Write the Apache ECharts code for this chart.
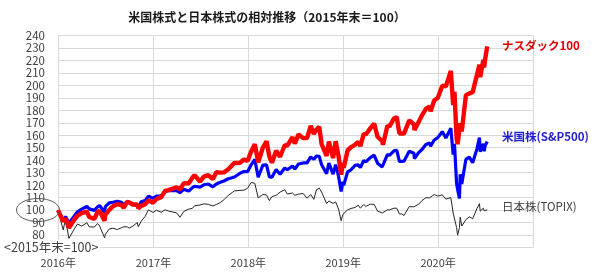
<!DOCTYPE html>
<html>
<head>
<meta charset="utf-8">
<script src="https://cdn.jsdelivr.net/npm/echarts@6/dist/echarts.min.js"></script>
<style>html,body{margin:0;padding:0;background:#fff}#c{width:600px;height:278px}</style>
</head>
<body>
<div id="c"></div>
<script>
const titleText = '米国株式と日本株式の相対推移（2015年末＝100）';
const seriesNames = ['ナスダック100', '米国株(S&P500)', '日本株(TOPIX)'];
const baseNote = '<2015年末=100>';
const hiddenYLabel = 70;

const dates = [
'2015-12-31','2016-01-20','2016-01-29','2016-02-11','2016-02-29','2016-03-15','2016-03-31','2016-04-20','2016-04-29','2016-05-19','2016-05-31','2016-06-08','2016-06-27','2016-06-30','2016-07-15','2016-07-29','2016-08-15','2016-08-31','2016-09-09','2016-09-22','2016-09-30','2016-10-14','2016-10-31','2016-11-04','2016-11-15','2016-11-30','2016-12-13','2016-12-30',
'2017-01-13','2017-01-31','2017-02-15','2017-02-28','2017-03-01','2017-03-31','2017-04-13','2017-04-28','2017-05-17','2017-05-31','2017-06-08','2017-06-29','2017-07-14','2017-07-31','2017-08-18','2017-08-31','2017-09-15','2017-09-29','2017-10-16','2017-10-31','2017-11-09','2017-11-30','2017-12-15','2017-12-29',
'2018-01-12','2018-01-26','2018-02-08','2018-02-26','2018-03-12','2018-03-23','2018-04-02','2018-04-18','2018-05-03','2018-05-21','2018-05-31','2018-06-20','2018-06-29','2018-07-13','2018-07-31','2018-08-15','2018-08-29','2018-09-10','2018-09-20','2018-10-01','2018-10-10','2018-10-29','2018-11-07','2018-11-23','2018-12-03','2018-12-14','2018-12-24','2018-12-31',
'2019-01-03','2019-01-18','2019-01-31','2019-02-15','2019-02-28','2019-03-08','2019-03-21','2019-03-29','2019-04-15','2019-04-30','2019-05-03','2019-05-13','2019-05-31','2019-06-03','2019-06-20','2019-06-28','2019-07-15','2019-07-26','2019-08-05','2019-08-14','2019-08-23','2019-09-12','2019-09-30','2019-10-02','2019-10-18','2019-10-31','2019-11-15','2019-11-29','2019-12-03','2019-12-17','2019-12-31',
'2020-01-17','2020-01-31','2020-02-19','2020-02-28','2020-03-04','2020-03-12','2020-03-16','2020-03-23','2020-03-26','2020-04-01','2020-04-17','2020-04-30','2020-05-13','2020-05-29','2020-06-08','2020-06-11','2020-06-23','2020-06-26','2020-06-30','2020-07-08'
];

const nasdaq = [
100,91.0,93.2,85.9,91.5,95.6,97.6,98.8,94.5,93.0,98.5,99.3,91.5,96.2,100.1,103.0,104.7,103.9,101.9,106.5,106.2,104.5,104.5,101.5,103.4,104.7,107.8,105.9,
108.9,110.4,115.4,116.0,117.6,118.3,116.5,121.6,121.5,126.0,128.0,122.9,126.9,128.0,125.0,130.4,130.0,130.2,132.8,136.0,137.8,138.0,140.6,139.3,
147.0,152.9,138.2,150.2,155.2,142.8,138.0,147.6,142.8,152.0,151.7,158.5,153.3,160.7,157.7,157.8,167.5,161.1,164.6,166.8,152.8,143.5,155.0,141.7,155.2,143.3,128.4,137.8,
133.9,148.0,150.4,152.4,154.6,151.3,161.1,160.6,165.5,169.4,170.8,158.8,155.2,152.4,167.6,167.0,173.5,174.5,161.4,161.5,161.3,172.0,168.7,164.2,170.7,176.0,181.1,183.0,179.2,187.9,190.1,
199.7,199.2,211.6,184.2,194.9,157.6,152.8,152.5,169.6,163.1,192.2,193.5,194.6,208.0,216.6,206.6,220.5,214.4,221.1,231.2
];

const sp500 = [
100,91.0,94.9,89.5,94.5,98.6,100.8,102.9,101.0,99.8,102.6,103.7,97.9,102.7,105.8,106.3,107.1,106.2,104.1,106.5,106.1,104.4,104.0,102.0,106.7,107.6,111.2,109.5,
111.3,111.5,115.0,115.6,117.2,115.6,113.9,116.6,115.3,118.0,119.1,118.4,120.3,120.9,118.7,120.9,122.3,123.3,125.1,126.0,126.5,129.5,130.9,130.8,
136.3,140.6,126.3,136.0,136.2,126.6,126.3,132.5,128.7,133.7,132.4,135.4,133.0,137.0,137.8,137.9,142.6,140.8,143.4,143.1,136.3,129.2,137.7,128.8,136.5,127.2,115.0,122.6,
119.8,130.7,132.3,135.8,136.2,134.2,139.7,138.7,142.1,144.1,144.1,137.6,134.6,134.3,144.5,143.9,147.5,148.0,139.1,139.0,139.3,147.2,145.6,141.3,146.1,148.6,152.6,153.7,151.3,156.2,158.1,
162.9,157.8,165.7,144.5,153.1,121.4,116.7,109.4,128.7,120.9,140.7,142.5,138.0,148.9,158.1,146.9,153.2,147.2,151.7,155.0
];

const topix = [
100,84.1,92.6,77.3,83.9,88.9,87.1,89.8,86.6,86.4,89.2,87.3,77.8,80.5,84.8,85.5,84.4,85.9,86.6,86.6,85.5,87.2,90.0,86.6,91.1,94.9,100.2,98.1,
99.9,98.3,100.2,99.2,100.2,97.8,94.2,99.0,100.8,101.4,103.4,104.1,105.0,104.6,103.3,104.5,106.0,108.2,111.8,114.1,115.4,115.8,116.0,117.5,
122.1,121.5,109.9,112.5,112.1,107.6,110.9,111.8,114.4,116.3,112.9,113.7,111.9,112.8,113.3,109.5,112.5,108.6,116.3,117.6,114.4,105.3,107.3,105.3,106.6,100.8,91.5,96.6,
95.1,100.2,101.3,102.1,103.9,101.5,104.5,102.9,104.7,104.6,104.6,99.2,97.7,96.9,100.2,100.2,101.5,101.5,96.9,96.9,95.7,102.8,102.6,101.8,104.7,107.7,109.9,109.8,109.2,112.5,111.2,
112.2,108.8,110.0,97.6,98.9,86.0,79.9,86.0,94.4,87.2,92.4,94.6,93.1,101.1,105.2,99.2,101.5,99.5,100.7,100.2
];

const pair = arr => dates.map((d, i) => [d, arr[i]]);
const FONT = '"Noto Sans CJK JP", "Noto Sans", sans-serif';

const chart = echarts.init(document.getElementById('c'), null, {renderer: 'canvas'});
chart.setOption({
  animation: false,
  backgroundColor: '#fff',
  title: {
    text: titleText, left: 262, top: 6, textAlign: 'center',
    textStyle: {fontFamily: FONT, fontSize: 12, fontWeight: 'bold', color: '#1a1a1a'}
  },
  grid: {left: 58, right: 67, top: 35.5, bottom: 30.5, containLabel: false},
  xAxis: {
    type: 'time', min: '2015-12-31', max: '2020-12-31',
    splitNumber: 5, minInterval: 365 * 24 * 3600 * 1000,
    axisLine: {show: true, lineStyle: {color: '#d9d9d9', width: 1}},
    axisTick: {show: false},
    splitLine: {show: true, lineStyle: {color: '#d9d9d9', width: 1}},
    axisLabel: {
      margin: 10, color: '#404040', fontFamily: FONT, fontSize: 11,
      formatter: v => new Date(v).getFullYear() + '年'
    }
  },
  yAxis: {
    type: 'value', min: 70, max: 240, interval: 10,
    axisLine: {show: true, lineStyle: {color: '#d9d9d9', width: 1}},
    axisTick: {show: false},
    splitLine: {show: true, lineStyle: {color: '#d9d9d9', width: 1}},
    axisLabel: {
      margin: 13, color: '#404040', fontFamily: FONT, fontSize: 11.5,
      formatter: v => v === hiddenYLabel ? '' : String(v)
    }
  },
  series: [
    {name: seriesNames[2], type: 'line', data: pair(topix), showSymbol: false, symbol: 'none',
     lineStyle: {color: '#262626', width: 1}, z: 2},
    {name: seriesNames[1], type: 'line', data: pair(sp500), showSymbol: false, symbol: 'none',
     lineStyle: {color: '#0000ff', width: 3.2}, z: 3},
    {name: seriesNames[0], type: 'line', data: pair(nasdaq), showSymbol: false, symbol: 'none',
     lineStyle: {color: '#ff0000', width: 4.4}, z: 4}
  ],
  graphic: [
    {type: 'text', left: 502, top: 40, z: 10,
     style: {text: seriesNames[0], fill: '#e00000', font: 'bold 11.5px ' + FONT}},
    {type: 'text', left: 502, top: 131, z: 10,
     style: {text: seriesNames[1], fill: '#1f1fd0', font: 'bold 11.5px ' + FONT}},
    {type: 'text', left: 502, top: 201, z: 10,
     style: {text: seriesNames[2], fill: '#404040', font: '11.5px ' + FONT}},
    {type: 'ellipse', z: 10,
     shape: {cx: 38, cy: 210, rx: 21.5, ry: 11.5},
     style: {fill: 'none', stroke: '#595959', lineWidth: 1}},
    {type: 'text', left: 4, top: 240, z: 10,
     style: {text: baseNote, fill: '#404040', font: '12.5px ' + FONT,
             backgroundColor: '#fff', padding: [1, 2, 1, 0]}}
  ]
});
</script>
</body>
</html>
